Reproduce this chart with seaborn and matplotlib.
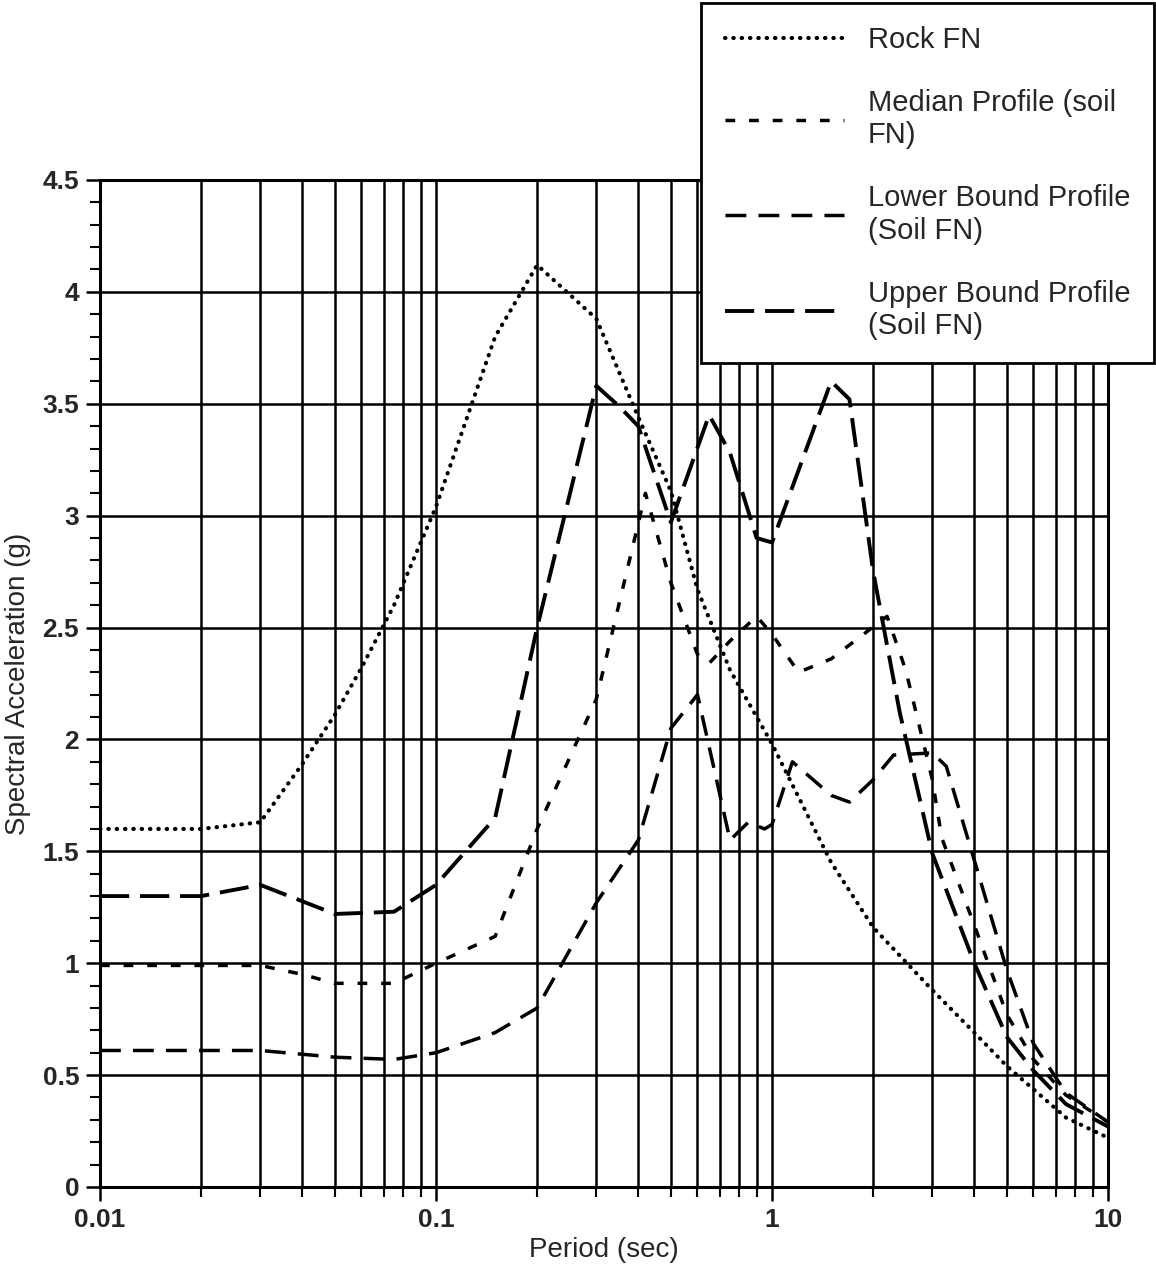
import numpy as np
import pandas as pd
import matplotlib
matplotlib.use("Agg")
import matplotlib.pyplot as plt
import seaborn as sns
from matplotlib.ticker import FixedLocator, LogLocator, MultipleLocator, FuncFormatter, NullFormatter
from matplotlib.lines import Line2D

# ---------------- data ----------------
period_rock = [0.01, 0.02, 0.03, 0.04, 0.05, 0.06, 0.075, 0.1, 0.15, 0.2, 0.3, 0.4, 0.5, 0.6,
               0.75, 1.0, 1.5, 2.0, 3.0, 4.0, 5.0, 7.5, 10.0]
sa_rock = [1.60, 1.60, 1.63, 1.89, 2.11, 2.32, 2.60, 3.04, 3.80, 4.12, 3.88, 3.44, 3.11, 2.67,
           2.31, 1.98, 1.45, 1.16, 0.88, 0.69, 0.54, 0.31, 0.22]

period_med = [0.01, 0.02, 0.03, 0.04, 0.05, 0.075, 0.1, 0.15, 0.2, 0.3, 0.42, 0.5, 0.6, 0.65,
              0.75, 0.9, 1.0, 1.2, 1.5, 2.2, 2.5, 3.0, 3.2, 4.0, 5.0, 6.0, 7.5, 10.0]
sa_med = [0.99, 0.99, 0.99, 0.95, 0.91, 0.91, 1.00, 1.12, 1.60, 2.18, 3.10, 2.70, 2.38, 2.34,
          2.44, 2.55, 2.47, 2.30, 2.36, 2.55, 2.31, 1.82, 1.56, 1.17, 0.77, 0.57, 0.41, 0.29]

period_lo = [0.01, 0.02, 0.03, 0.05, 0.075, 0.1, 0.15, 0.2, 0.3, 0.4, 0.5, 0.6, 0.75, 0.85,
             0.95, 1.0, 1.15, 1.5, 1.7, 2.0, 2.3, 3.0, 3.3, 4.0, 5.0, 6.0, 7.5, 10.0]
sa_lo = [0.61, 0.61, 0.61, 0.58, 0.57, 0.60, 0.69, 0.80, 1.27, 1.55, 2.05, 2.20, 1.55, 1.63,
         1.60, 1.62, 1.90, 1.75, 1.72, 1.82, 1.93, 1.94, 1.88, 1.46, 0.97, 0.64, 0.42, 0.29]

period_up = [0.01, 0.02, 0.03, 0.05, 0.075, 0.1, 0.15, 0.2, 0.3, 0.35, 0.4, 0.5, 0.65, 0.75,
             0.9, 1.0, 1.5, 1.7, 2.0, 2.4, 3.0, 4.0, 5.0, 6.0, 7.5, 10.0]
sa_up = [1.30, 1.30, 1.35, 1.22, 1.23, 1.35, 1.65, 2.50, 3.58, 3.49, 3.40, 2.97, 3.45, 3.28,
         2.90, 2.88, 3.60, 3.52, 2.75, 2.12, 1.49, 1.00, 0.67, 0.52, 0.37, 0.27]

series_labels = ["Rock FN", "Median Profile (soil\nFN)",
                 "Lower Bound Profile\n(Soil FN)", "Upper Bound Profile\n(Soil FN)"]
x_tick_values = [0.01, 0.1, 1, 10]
x_tick_labels = ["0.01", "0.1", "1", "10"]
x_label = "Period (sec)"
y_label = "Spectral Acceleration (g)"

# ---------------- styling ----------------
sns.set_style("ticks")
plt.rcParams['font.family'] = ['Liberation Sans', 'DejaVu Sans']

styles = [
    dict(linestyle=(0, (0.1, 1.9)), linewidth=3.0, dash_capstyle='round'),
    dict(linestyle=(0, (2.8, 4.0)), linewidth=2.5),
    dict(linestyle=(0, (6.0, 3.5)), linewidth=2.5),
    dict(linestyle=(0, (7.5, 2.8)), linewidth=2.8),
]

fig = plt.figure(figsize=(11.56, 12.71), dpi=100)
ax = fig.add_axes([0.0865, 0.0661, 0.872, 0.7923])

datasets = [(period_rock, sa_rock), (period_med, sa_med),
            (period_lo, sa_lo), (period_up, sa_up)]
for (px, py), st in zip(datasets, styles):
    df = pd.DataFrame({"period": px, "sa": py})
    sns.lineplot(data=df, x="period", y="sa", ax=ax, color="black",
                 estimator=None, sort=False, zorder=3, **st)

ax.set_xscale("log")
ax.set_xlim(0.01, 10)
ax.set_ylim(0, 4.5)

ax.xaxis.set_major_locator(FixedLocator(x_tick_values))
ax.xaxis.set_major_formatter(FuncFormatter(lambda v, p: x_tick_labels[x_tick_values.index(v)]
                                           if v in x_tick_values else ""))
ax.xaxis.set_minor_locator(LogLocator(base=10, subs=np.arange(2, 10)))
ax.xaxis.set_minor_formatter(NullFormatter())
ax.yaxis.set_major_locator(MultipleLocator(0.5))
ax.yaxis.set_minor_locator(MultipleLocator(0.1))
ax.yaxis.set_major_formatter(FuncFormatter(lambda v, p: f"{v:g}"))

ax.grid(which="major", axis="both", color="black", linewidth=1.8)
ax.grid(which="minor", axis="x", color="black", linewidth=1.8)
ax.grid(which="minor", axis="y", visible=False)

ax.tick_params(which="major", direction="out", length=10, width=1.8, color="black",
               labelsize=19, pad=5)
ax.tick_params(which="minor", direction="out", length=7, width=1.5, color="black")
ax.tick_params(top=False, right=False)
for lab in ax.get_xticklabels() + ax.get_yticklabels():
    lab.set_fontweight("bold")

for sp in ax.spines.values():
    sp.set_color("black")
    sp.set_linewidth(2.2)
    sp.set_visible(True)

ax.set_xlabel(x_label, fontsize=20, labelpad=4)
ax.set_ylabel(y_label, fontsize=20, labelpad=8)

handles = [Line2D([0], [0], color="black", **st) for st in styles]
leg = fig.legend(handles, series_labels, loc="upper right",
                 bbox_to_anchor=(0.998, 0.998), bbox_transform=fig.transFigure,
                 frameon=True, fancybox=False, framealpha=1, facecolor="white",
                 edgecolor="black", fontsize=21, borderpad=0.8, handlelength=4.1,
                 handletextpad=0.8, labelspacing=1.2, borderaxespad=0)
leg.get_frame().set_linewidth(2.0)

fig.savefig("out.png", dpi=100)
